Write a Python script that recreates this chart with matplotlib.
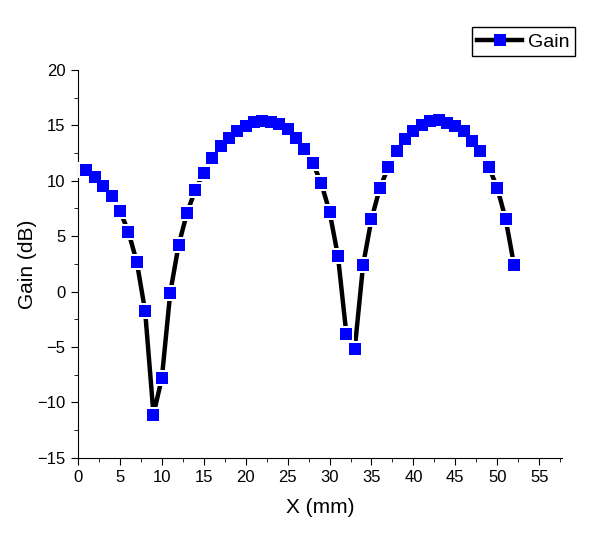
import numpy as np
import matplotlib
matplotlib.use('Agg')
import matplotlib.pyplot as plt
from matplotlib.ticker import MultipleLocator
from matplotlib.lines import Line2D

plt.rcParams['font.family'] = ['Liberation Sans', 'DejaVu Sans']

# data
x_mm = list(range(1, 53))
gain_db = [11.0, 10.3, 9.5, 8.6, 7.3, 5.4, 2.7, -1.75, -11.1, -7.8,
           -0.1, 4.2, 7.1, 9.2, 10.7, 12.05, 13.1, 13.9, 14.5, 14.9,
           15.3, 15.4, 15.3, 15.1, 14.7, 13.9, 12.9, 11.6, 9.8, 7.2,
           3.2, -3.8, -5.2, 2.4, 6.55, 9.35, 11.2, 12.7, 13.8, 14.5,
           15.0, 15.4, 15.5, 15.2, 14.95, 14.5, 13.6, 12.7, 11.25, 9.35,
           6.55, 2.4]

fig = plt.figure(figsize=(6.12, 5.42), dpi=100)
ax = fig.add_axes([0.1275, 0.1555, 0.7905, 0.7155])

# line, then white squares to leave a gap round each symbol, then the symbols
ax.plot(x_mm, gain_db, color='black', lw=3.2, zorder=2)
ax.plot(x_mm, gain_db, ls='none', marker='s', ms=11.5,
        markerfacecolor='white', markeredgecolor='white', mew=0, zorder=3)
ax.plot(x_mm, gain_db, ls='none', marker='s', ms=8,
        markerfacecolor='#0000ff', markeredgecolor='#0000ff', mew=0, zorder=4)

ax.set_xlim(0, 57.7)
ax.set_ylim(-15, 20)
ax.xaxis.set_major_locator(MultipleLocator(5))
ax.xaxis.set_minor_locator(MultipleLocator(2.5))
ax.yaxis.set_major_locator(MultipleLocator(5))
ax.yaxis.set_minor_locator(MultipleLocator(2.5))

for s in ['top', 'right']:
    ax.spines[s].set_visible(False)
ax.tick_params(which='both', direction='out', labelsize=12, colors='black', pad=4)
ax.tick_params(which='major', length=5)
ax.tick_params(which='minor', length=3)

ax.set_xlabel('X (mm)', fontsize=15, labelpad=9)
ax.set_ylabel('Gain (dB)', fontsize=15, labelpad=0.5)

handle = Line2D([], [], color='black', lw=3.2, marker='s', ms=8,
                markerfacecolor='#0000ff', markeredgecolor='#0000ff', mew=0)
fig.legend([handle], ['Gain'], loc='upper right', bbox_to_anchor=(0.94, 0.95),
           fontsize=14, frameon=True, fancybox=False, edgecolor='black',
           handlelength=2.3, borderpad=0.3, handletextpad=0.3,
           borderaxespad=0.0, framealpha=1)

fig.savefig('out.png', dpi=100)
